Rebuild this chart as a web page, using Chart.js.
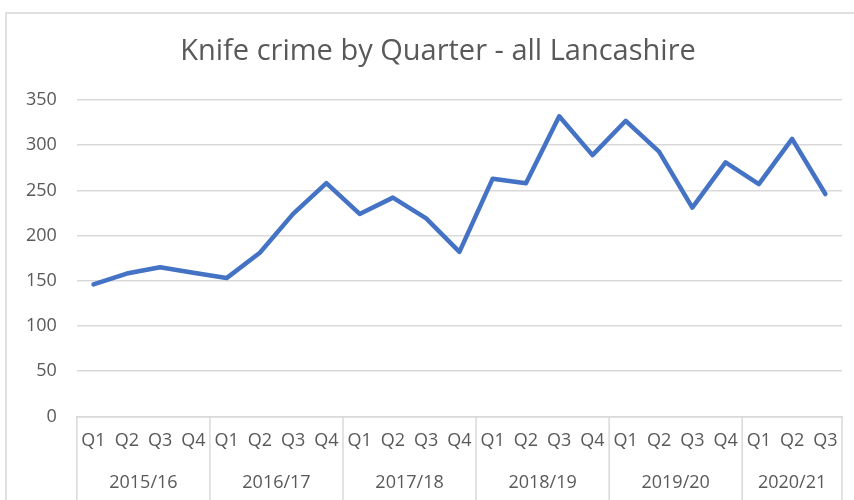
<!DOCTYPE html>
<html>
<head>
<meta charset="utf-8">
<script src="https://cdn.jsdelivr.net/npm/chart.js@4"></script>
<style>
  html, body { margin: 0; padding: 0; background: #fff; overflow: hidden; }
  #frame { position: absolute; left: 5px; top: 12px; width: 900px; height: 600px; border: 2px solid #e0e0e0; }
  #wrap { position: absolute; left: 0; top: 0; width: 854px; height: 500px; }
</style>
</head>
<body>
<div id="frame"></div>
<div id="wrap"><canvas id="chart" width="854" height="500"></canvas></div>
<script>
'use strict';

// quarters for each financial year
const quarters = ['Q1','Q2','Q3','Q4', 'Q1','Q2','Q3','Q4', 'Q1','Q2','Q3','Q4',
                  'Q1','Q2','Q3','Q4', 'Q1','Q2','Q3','Q4', 'Q1','Q2','Q3'];
const years = ['2015/16','2016/17','2017/18','2018/19','2019/20','2020/21'];
const quartersPerYear = [4, 4, 4, 4, 4, 3];
const knifeCrimes = [146, 158, 165, 159, 153, 181, 224, 258, 224, 242, 219, 182,
                     263, 258, 332, 289, 327, 293, 231, 281, 257, 307, 246];
const yMin = 0, yMax = 350, yStep = 50;
const chartTitle = 'Knife crime by Quarter - all Lancashire';

const textColor = '#595959';
const gridColor = '#d9d9d9';
const fontFamily = '"Open Sans"';

// title centred on the outer frame rather than the canvas
const frameTitle = {
  id: 'frameTitle',
  afterDraw: function(chart){
    const ctx = chart.ctx;
    ctx.save();
    ctx.fillStyle = textColor;
    ctx.font = '29px ' + fontFamily;
    ctx.textAlign = 'center';
    ctx.textBaseline = 'middle';
    ctx.fillText(chartTitle, 438, 52);
    ctx.restore();
  }
};

// draws the year row under the quarter labels, with divider lines
const yearAxis = {
  id: 'yearAxis',
  afterDraw: function(chart){
    const x = chart.scales.x;
    const ctx = chart.ctx;
    const half = (x.getPixelForValue(1) - x.getPixelForValue(0)) / 2;
    const top = chart.chartArea.bottom;
    let idx = 0;
    ctx.save();
    ctx.strokeStyle = gridColor;
    ctx.lineWidth = 1.5;
    ctx.fillStyle = textColor;
    ctx.font = '18px ' + fontFamily;
    ctx.textAlign = 'center';
    ctx.textBaseline = 'middle';
    for (let i = 0; i < years.length; i++) {
      const left = x.getPixelForValue(idx) - half;
      const right = x.getPixelForValue(idx + quartersPerYear[i] - 1) + half;
      ctx.beginPath();
      ctx.moveTo(left, top);
      ctx.lineTo(left, 500);
      if (i === years.length - 1) {
        ctx.moveTo(right, top);
        ctx.lineTo(right, 500);
      }
      ctx.stroke();
      ctx.fillText(years[i], (left + right) / 2, 483);
      idx += quartersPerYear[i];
    }
    ctx.restore();
  }
};

new Chart(document.getElementById('chart'), {
  type: 'line',
  data: {
    labels: quarters,
    datasets: [{
      label: 'Knife crime',
      data: knifeCrimes,
      borderColor: '#4472C4',
      borderWidth: 4.5,
      borderJoinStyle: 'round',
      borderCapStyle: 'round',
      pointRadius: 0,
      tension: 0,
      fill: false
    }]
  },
  options: {
    responsive: false,
    animation: false,
    layout: { padding: { left: 6, right: 12, top: 100, bottom: 34 } },
    plugins: {
      legend: { display: false },
      tooltip: { enabled: false },
      title: { display: false }
    },
    scales: {
      x: {
        offset: true,
        grid: { display: false, drawTicks: false },
        border: { display: true, color: gridColor, width: 1.5 },
        ticks: {
          color: textColor, font: { family: fontFamily, size: 18 },
          padding: 14, autoSkip: false, maxRotation: 0
        }
      },
      y: {
        min: yMin, max: yMax,
        grid: { color: gridColor, lineWidth: 1.5, drawTicks: false },
        border: { display: false },
        ticks: {
          stepSize: yStep, color: textColor,
          font: { family: fontFamily, size: 18 }, padding: 20
        }
      }
    }
  },
  plugins: [yearAxis, frameTitle]
});
</script>
</body>
</html>
